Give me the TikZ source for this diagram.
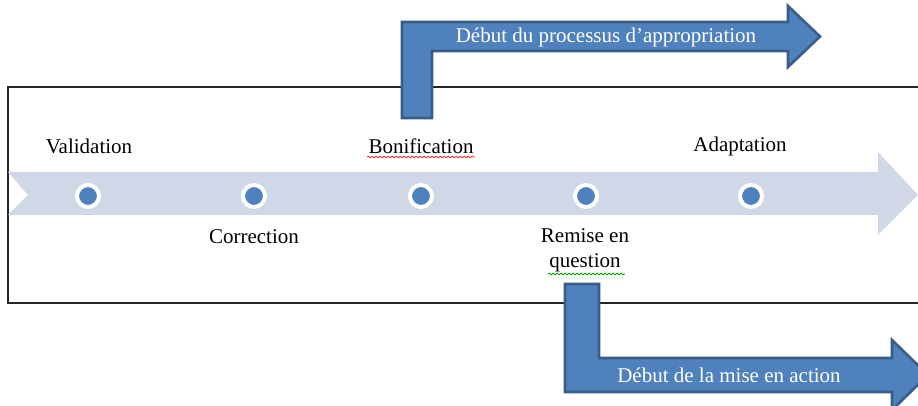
\documentclass[tikz,border=0pt]{standalone}
\usepackage{fontspec}
\setmainfont{Liberation Serif}
\usetikzlibrary{decorations.pathmorphing}

\definecolor{stepblue}{HTML}{4F81BD}
\definecolor{stepedge}{HTML}{385D8A}
\definecolor{bandgray}{HTML}{D0D8E8}

\tikzset{
  dot/.style={circle, fill=stepblue, draw=white, line width=2pt, minimum size=11pt, inner sep=0pt},
  lbl/.style={font=\fontsize{10.5}{12.5}\selectfont, inner sep=1pt, align=center},
  bent/.style={fill=stepblue, draw=stepedge, line width=1.3pt, line join=miter},
  squiggle/.style={decorate, decoration={snake, amplitude=0.45pt, segment length=2pt}, line width=0.4pt}
}

\begin{document}
\begin{tikzpicture}[x=0.5pt,y=-0.5pt]

  \useasboundingbox (0,0) rectangle (918,406);
  \clip (0,0) rectangle (918,406);

  % frame
  \draw[black!85, line width=0.6pt] (8,87) rectangle (940,303);

  % band
  \fill[bandgray] (8,172) -- (878,172) -- (878,152) -- (918,195) -- (878,235)
    -- (878,215) -- (8,215) -- (28,195) -- cycle;

  % arrows
  \draw[bent] (402,118) -- (402,22) -- (788,22) -- (788,6) -- (820,36.5)
    -- (788,67) -- (788,51) -- (432,51) -- (432,118) -- cycle;
  \draw[bent] (565,284) -- (565,392) -- (892,392) -- (892,410) -- (928,375)
    -- (892,340) -- (892,358) -- (599,358) -- (599,284) -- cycle;
  \node[lbl, text=white] (appro) at (606,37) {Début du processus d’appropriation};
  \node[lbl, text=white] (action) at (729,375) {Début de la mise en action};

  % nodes
  \node[dot] (d1) at (88,196) {};
  \node[dot] (d2) at (254,196) {};
  \node[dot] (d3) at (421,196) {};
  \node[dot] (d4) at (586,196) {};
  \node[dot] (d5) at (751,196) {};

  % labels
  \node[lbl] (validation) at (89,146) {Validation};
  \node[lbl] (correction) at (254,237) {Correction};
  \node[lbl] (bonification) at (421,146) {Bonification};
  \node[lbl] (adaptation) at (740,146) {Adaptation};
  \node[lbl] (remise) at (585,250) {Remise en\\question};

  % spelling marks
  \draw[squiggle, red!80] (367,157) -- (475,157);
  \draw[squiggle, green!60!black] (548,274) -- (625,274);

\end{tikzpicture}
\end{document}
